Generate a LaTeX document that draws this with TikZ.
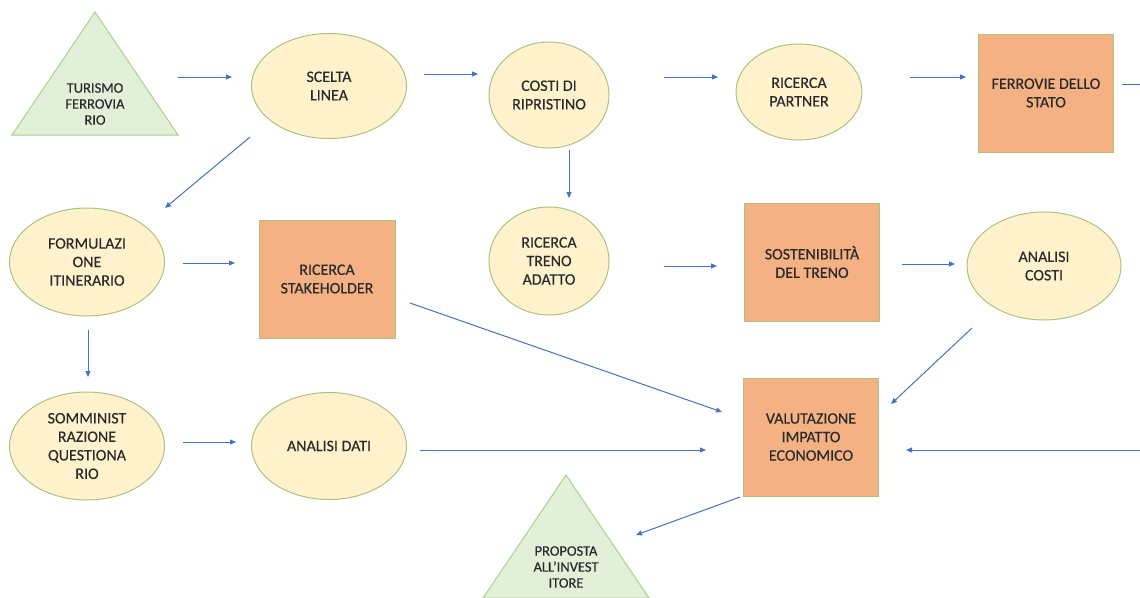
\documentclass[tikz,border=0pt]{standalone}
\usepackage{fontspec}
\setmainfont{Carlito}[FakeBold=0.35]
\usetikzlibrary{shapes.geometric,arrows.meta}
\definecolor{ovalfill}{HTML}{FFF2CC}
\definecolor{nodeedge}{HTML}{A9C47F}
\definecolor{boxfill}{HTML}{F4B183}
\definecolor{trifill}{HTML}{E2F0D9}
\definecolor{triedge}{HTML}{A9D18E}
\definecolor{flow}{HTML}{4472C4}
\definecolor{ink}{HTML}{2A2A2A}
\begin{document}
\begin{tikzpicture}[x=1pt,y=-1pt,
  oval/.style={ellipse, draw=nodeedge, fill=ovalfill, line width=1pt, inner sep=0pt,
    align=center, text=ink, font=\fontsize{16}{18.5}\selectfont},
  box/.style={rectangle, draw=nodeedge, fill=boxfill, line width=1pt, inner sep=0pt,
    minimum width=135pt, minimum height=118pt, align=center, text=ink,
    font=\fontsize{16}{18.5}\selectfont},
  tri/.style={draw=triedge, fill=trifill, line width=1pt},
  trilabel/.style={align=center, text=ink, font=\fontsize{14.5}{16}\selectfont},
  flowline/.style={draw=flow, line width=1pt, -{Triangle[length=6pt,width=5pt]}},
  flowplain/.style={draw=flow, line width=1pt},
]
\useasboundingbox (0,0) rectangle (1140,597);

% start and end triangles
\draw[tri] (95,12) -- (178,135) -- (12,135) -- cycle;
\node[trilabel] (turismo) at (95,104) {TURISMO\\FERROVIA\\RIO};
\draw[tri] (566,475) -- (649,598) -- (483,598) -- cycle;
\node[trilabel] (proposta) at (566,567) {PROPOSTA\\ALL’INVEST\\ITORE};

% ovals
\node[oval, minimum width=155pt, minimum height=105pt] (scelta) at (329,86) {SCELTA\\LINEA};
\node[oval, minimum width=120pt, minimum height=106pt] (costi) at (549,95) {COSTI DI\\RIPRISTINO};
\node[oval, minimum width=126pt, minimum height=96pt] (partner) at (799,92) {RICERCA\\PARTNER};
\node[oval, minimum width=155pt, minimum height=108pt] (formul) at (87,262) {FORMULAZI\\ONE\\ITINERARIO};
\node[oval, minimum width=120pt, minimum height=108pt] (treno) at (549,261) {RICERCA\\TRENO\\ADATTO};
\node[oval, minimum width=154pt, minimum height=108pt] (analisicosti) at (1044,266) {ANALISI\\COSTI};
\node[oval, minimum width=155pt, minimum height=108pt] (somm) at (87,446) {SOMMINIST\\RAZIONE\\QUESTIONA\\RIO};
\node[oval, minimum width=155pt, minimum height=107pt] (dati) at (329,446) {ANALISI DATI};

% boxes
\node[box] (ferrovie) at (1046,93) {FERROVIE DELLO\\STATO};
\node[box, minimum width=136pt] (stake) at (327,279) {RICERCA\\STAKEHOLDER};
\node[box] (sosten) at (812,262) {SOSTENIBILITÀ\\DEL TRENO};
\node[box] (valut) at (811,437) {VALUTAZIONE\\IMPATTO\\ECONOMICO};

% connector end points
\coordinate (a1s) at (178,77);  \coordinate (a1e) at (232,77);
\coordinate (a2s) at (424,74);  \coordinate (a2e) at (478,74);
\coordinate (a3s) at (664,77);  \coordinate (a3e) at (718,77);
\coordinate (a4s) at (910,77);  \coordinate (a4e) at (966,77);
\coordinate (a5s) at (1122,84); \coordinate (a5e) at (1140,84);
\coordinate (a6s) at (250,137); \coordinate (a6e) at (165,208);
\coordinate (a7s) at (183,263); \coordinate (a7e) at (235,263);
\coordinate (a8s) at (569,150); \coordinate (a8e) at (569,198);
\coordinate (a9s) at (664,266); \coordinate (a9e) at (717,266);
\coordinate (a10s) at (902,264); \coordinate (a10e) at (955,264);
\coordinate (a11s) at (88,330);  \coordinate (a11e) at (88,377);
\coordinate (a12s) at (183,442); \coordinate (a12e) at (236,442);
\coordinate (a13s) at (410,303); \coordinate (a13e) at (722,412);
\coordinate (a14s) at (972,328); \coordinate (a14e) at (891,404);
\coordinate (a15s) at (420,450); \coordinate (a15e) at (706,450);
\coordinate (a16s) at (1140,450); \coordinate (a16e) at (906,450);
\coordinate (a17s) at (740,497); \coordinate (a17e) at (636,535);

% connectors
\draw[flowline] (a1s) -- (a1e);
\draw[flowline] (a2s) -- (a2e);
\draw[flowline] (a3s) -- (a3e);
\draw[flowline] (a4s) -- (a4e);
\draw[flowplain] (a5s) -- (a5e);
\draw[flowline] (a6s) -- (a6e);
\draw[flowline] (a7s) -- (a7e);
\draw[flowline] (a8s) -- (a8e);
\draw[flowline] (a9s) -- (a9e);
\draw[flowline] (a10s) -- (a10e);
\draw[flowline] (a11s) -- (a11e);
\draw[flowline] (a12s) -- (a12e);
\draw[flowline] (a13s) -- (a13e);
\draw[flowline] (a14s) -- (a14e);
\draw[flowline] (a15s) -- (a15e);
\draw[flowline] (a16s) -- (a16e);
\draw[flowline] (a17s) -- (a17e);
\end{tikzpicture}
\end{document}
